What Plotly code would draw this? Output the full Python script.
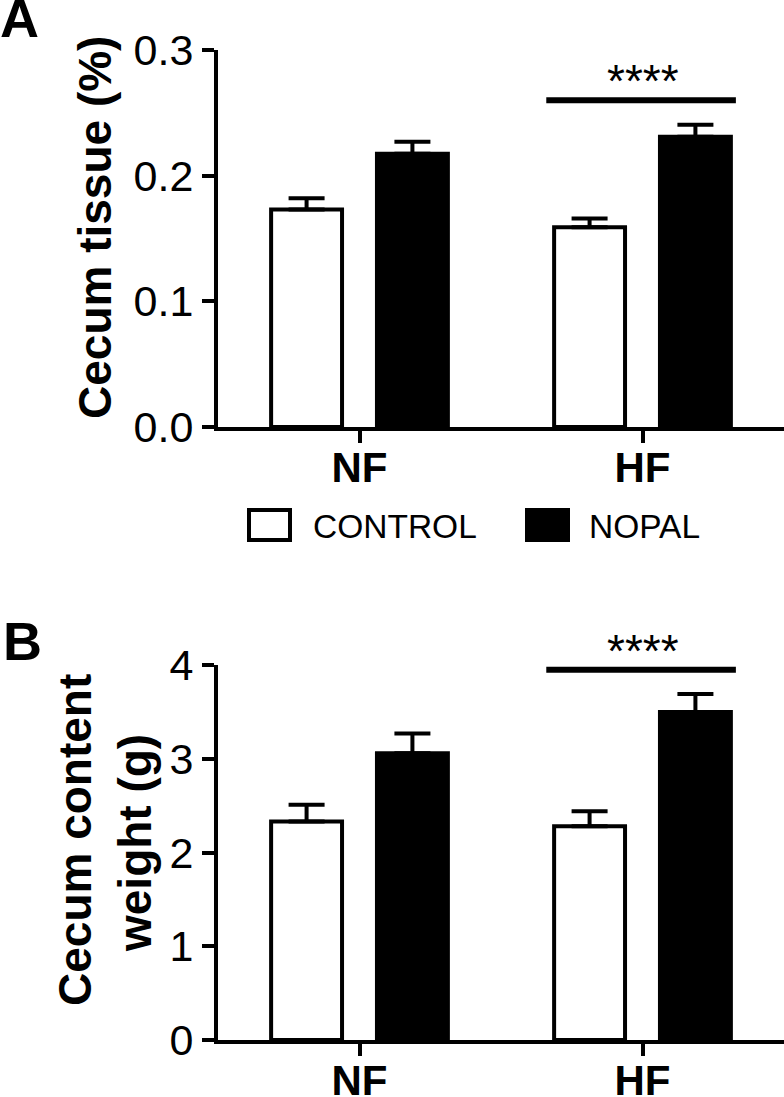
import plotly.graph_objects as go

# ---------------- data ----------------
groups = ["NF", "HF"]
series_names = ["CONTROL", "NOPAL"]

# Panel A: Cecum tissue (%)
tissue_control = [0.173, 0.159]
tissue_control_err = [0.009, 0.007]
tissue_nopal = [0.2175, 0.231]
tissue_nopal_err = [0.0095, 0.0095]
tissue_ticks = [0.0, 0.1, 0.2, 0.3]

# Panel B: Cecum content weight (g)
content_control = [2.33, 2.28]
content_control_err = [0.18, 0.16]
content_nopal = [3.06, 3.50]
content_nopal_err = [0.21, 0.19]
content_ticks = [0, 1, 2, 3, 4]

sig_group = "HF"
sig_label = "****"

# ---------------- layout geometry ----------------
W, H = 784, 1097
ML, MR, MT, MB = 218, 0, 50, 57
PW, PH = W - ML - MR, H - MT - MB

def px(xp):
    return (xp - ML) / PW

def py(yp):
    return (H - MB - yp) / PH

A_dom = [py(427), 1.0]
B_dom = [0.0, py(665)]

FONT = "Liberation Sans, Arial, Helvetica, sans-serif"
BARGAP = 0.252
BARGROUPGAP = 0.33
LW = 4

fig = go.Figure()

def add_bars(vals, errs, name, fill, xa, ya):
    fig.add_trace(go.Bar(
        x=groups, y=vals, name=name, xaxis=xa, yaxis=ya, showlegend=False,
        offsetgroup=name,
        marker=dict(color=fill, line=dict(color="black", width=LW)),
        error_y=dict(type="data", array=errs, arrayminus=[0] * len(errs),
                     symmetric=False, color="black", thickness=4, width=18),
    ))

add_bars(tissue_control, tissue_control_err, series_names[0], "white", "x", "y")
add_bars(tissue_nopal, tissue_nopal_err, series_names[1], "black", "x", "y")
add_bars(content_control, content_control_err, series_names[0], "white", "x2", "y2")
add_bars(content_nopal, content_nopal_err, series_names[1], "black", "x2", "y2")

axis_common = dict(
    showline=True, linecolor="black", linewidth=LW,
    ticks="outside", ticklen=12, tickwidth=LW, tickcolor="black",
    showgrid=False, zeroline=False, automargin=False,
)

xa = dict(axis_common, type="category", range=[-0.5, 1.5], ticklabelstandoff=-11,
          tickfont=dict(family=FONT, size=42, color="black", weight="bold"))

fig.update_layout(
    width=W, height=H, autosize=False,
    margin=dict(l=ML, r=MR, t=MT, b=MB, autoexpand=False),
    paper_bgcolor="white", plot_bgcolor="white",
    barmode="group", bargap=BARGAP, bargroupgap=BARGROUPGAP,
    showlegend=False,
    xaxis=dict(xa, anchor="y", domain=[0, 1]),
    xaxis2=dict(xa, anchor="y2", domain=[0, 1]),
    yaxis=dict(axis_common, anchor="x", domain=A_dom, range=[0, 0.3],
               tickvals=tissue_ticks, tickformat=".1f",
               tickfont=dict(family=FONT, size=43, color="black")),
    yaxis2=dict(axis_common, anchor="x2", domain=B_dom, range=[0, 4],
                tickvals=content_ticks, tickformat="d",
                tickfont=dict(family=FONT, size=43, color="black")),
)

# ---------------- significance markers ----------------
gi = groups.index(sig_group)
for xr, yr, ctl, cte, nop, ne, rmax in [
    ("x", "y", tissue_control, tissue_control_err, tissue_nopal, tissue_nopal_err, 0.3),
    ("x2", "y2", content_control, content_control_err, content_nopal, content_nopal_err, 4),
]:
    top = max(ctl[gi] + cte[gi], nop[gi] + ne[gi])
    ys = top + 0.065 * rmax
    fig.add_shape(type="line", xref=xr, yref=yr, x0=gi - 0.34, x1=gi + 0.33,
                  y0=ys, y1=ys, line=dict(color="black", width=6))
    fig.add_annotation(xref=xr, yref=yr, x=gi, y=ys, text=sig_label,
                       showarrow=False, yanchor="middle", yshift=19,
                       font=dict(family=FONT, size=46, color="black"))

# ---------------- axis titles ----------------
def title(text, xp, yp, size=46):
    fig.add_annotation(xref="paper", yref="paper", x=px(xp), y=py(yp),
                       text=text, textangle=-90, showarrow=False,
                       xanchor="center", yanchor="middle",
                       font=dict(family=FONT, size=size, color="black", weight="bold"))

title("Cecum tissue (%)", 95, 228)
title("Cecum content", 75, 840)
title("weight (g)", 135, 843)

# ---------------- panel letters ----------------
for letter, xp, yp in [("A", -2, 18), ("B", 1, 641)]:
    fig.add_annotation(xref="paper", yref="paper", x=px(xp), y=py(yp), text=letter,
                       showarrow=False, xanchor="left", yanchor="middle",
                       font=dict(family=FONT, size=54, color="black", weight="bold"))

# ---------------- legend ----------------
legend_items = [(series_names[0], "white", 247, 311), (series_names[1], "black", 525, 587)]
for name, fill, bx, tx in legend_items:
    fig.add_shape(type="rect", xref="paper", yref="paper",
                  x0=px(bx + 2), x1=px(bx + 43), y0=py(540), y1=py(510),
                  fillcolor=fill, line=dict(color="black", width=LW))
    fig.add_annotation(xref="paper", yref="paper", x=px(tx), y=py(526), text=name,
                       showarrow=False, xanchor="left", yanchor="middle",
                       font=dict(family=FONT, size=33.5, color="black"))

fig.write_html("out.html",
               config=dict(displayModeBar=False, responsive=False),
               post_script="document.body.style.margin='0';document.body.style.overflow='hidden';")
